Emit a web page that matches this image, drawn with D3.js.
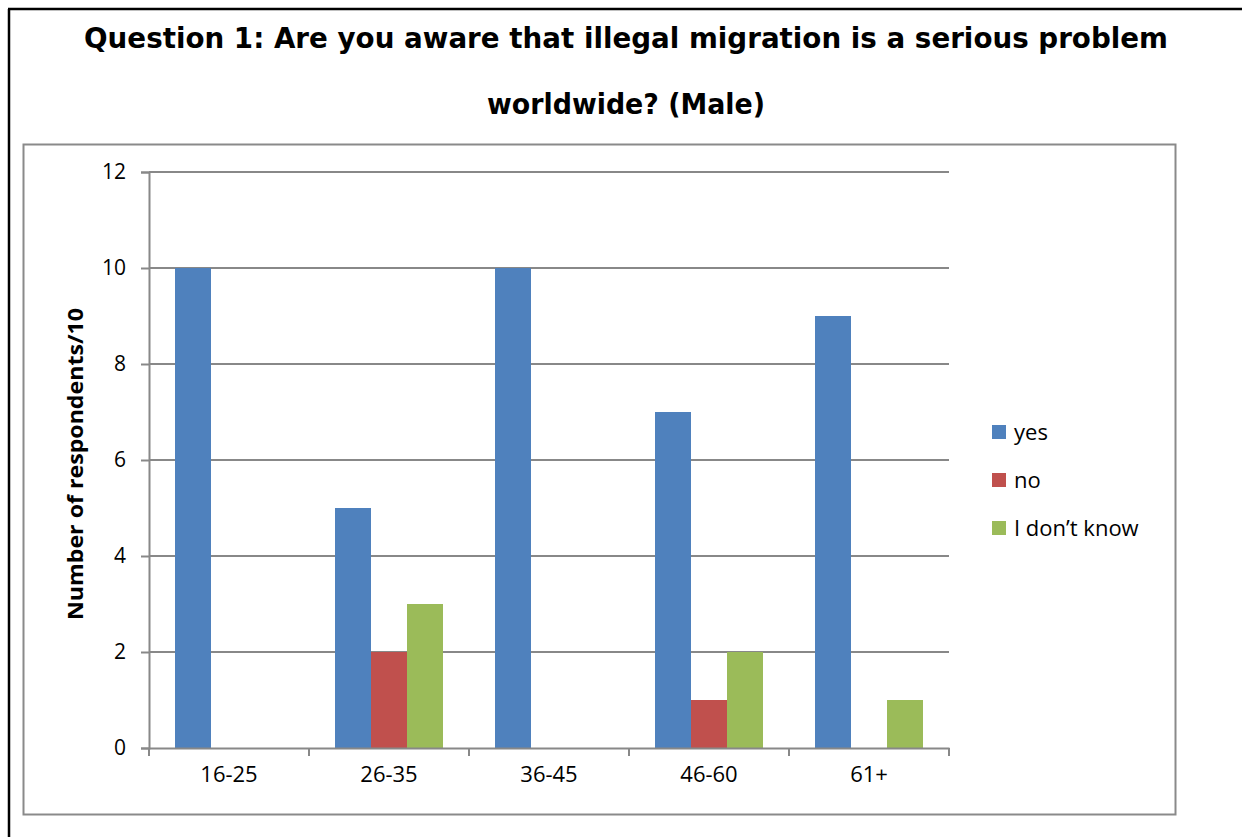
<!DOCTYPE html>
<html><head><meta charset="utf-8">
<script src="https://cdn.jsdelivr.net/npm/d3@7/dist/d3.min.js"></script>
<style>body{margin:0;background:#fff}svg{display:block}</style>
</head><body>
<svg id="c" width="1242" height="837"></svg>
<script>
const categories = ["16-25","26-35","36-45","46-60","61+"];
const seriesNames = ["yes","no","I don\u2019t know"];
const yesValues = [10,5,10,7,9];
const noValues = [0,2,0,1,0];
const dontKnowValues = [0,3,0,2,1];
const yTicks = [0,2,4,6,8,10,12];
const colors = ["#4F81BD","#C0504D","#9BBB59"];
const titleLines = ["Question 1: Are you aware that illegal migration is a serious problem","worldwide? (Male)"];
const yLabel = "Number of respondents/10";

(function(){
const series = [yesValues, noValues, dontKnowValues];
const svg = d3.select("#c");
const font = "'Open Sans', sans-serif";

// outer page border (left + top)
svg.append("line").attr("x1",9).attr("x2",9).attr("y1",9).attr("y2",837).attr("stroke","#000").attr("stroke-width",2.5);
svg.append("line").attr("x1",8).attr("x2",1242).attr("y1",9).attr("y2",9).attr("stroke","#000").attr("stroke-width",2.5);

// title
svg.selectAll("text.title").data(titleLines).join("text")
  .attr("class","title")
  .attr("x",626).attr("y",(d,i)=> i===0 ? 48 : 114)
  .attr("text-anchor","middle")
  .attr("font-family","'DejaVu Sans', sans-serif").attr("font-weight","bold")
  .attr("font-size",29)
  .attr("textLength",(d,i)=> i===0 ? 1084 : 278).attr("lengthAdjust","spacingAndGlyphs")
  .text(d=>d);

// chart area box
svg.append("rect").attr("x",23.5).attr("y",144.5).attr("width",1152).attr("height",670)
  .attr("fill","#fff").attr("stroke","#8a8a8a").attr("stroke-width",2);

const pl = 149, pr = 949, pt = 172, pb = 748;
const x = d3.scaleBand().domain(categories).range([pl,pr]).paddingInner(0).paddingOuter(0);
const y = d3.scaleLinear().domain([0,12]).range([pb,pt]);
const groupInner = 108;
const xs = d3.scaleBand().domain(d3.range(seriesNames.length)).range([0,groupInner]);

// gridlines
svg.append("g").selectAll("line").data(yTicks.filter(t=>t>0)).join("line")
  .attr("x1",pl).attr("x2",pr).attr("y1",d=>y(d)).attr("y2",d=>y(d))
  .attr("stroke","#888").attr("stroke-width",2);

// bars
const g = svg.append("g");
series.forEach((vals,si)=>{
  g.selectAll(null).data(vals.map((v,i)=>({v,c:categories[i]}))).join("rect")
    .attr("x",d=> x(d.c) + (x.bandwidth()-groupInner)/2 + xs(si))
    .attr("width",xs.bandwidth())
    .attr("y",d=>y(d.v)).attr("height",d=>y(0)-y(d.v))
    .attr("fill",colors[si]);
});

// y axis
const yAxis = d3.axisLeft(y).tickValues(yTicks).tickSize(8).tickPadding(10).tickFormat(d3.format("d"));
const yg = svg.append("g").attr("transform",`translate(${pl},0)`).call(yAxis);
yg.select(".domain").attr("stroke","#888").attr("stroke-width",2);
yg.selectAll(".tick line").attr("stroke","#888").attr("stroke-width",2);
yg.selectAll(".tick text").attr("font-family",font).attr("font-size",21).attr("fill","#000").attr("dx",-5);

// x axis
const xAxis = d3.axisBottom(x).tickSize(0).tickPadding(18);
const xg = svg.append("g").attr("transform",`translate(0,${pb})`).call(xAxis);
xg.select(".domain").attr("stroke","#888").attr("stroke-width",2);
xg.selectAll(".tick text").attr("font-family",font).attr("font-size",22).attr("fill","#000");
xg.selectAll("line.sep").data(d3.range(categories.length+1)).join("line").attr("class","sep")
  .attr("x1",i=> pl + i*x.step()).attr("x2",i=> pl + i*x.step())
  .attr("y1",0).attr("y2",8).attr("stroke","#888").attr("stroke-width",2);

// y label
svg.append("text").attr("transform","translate(83,464) rotate(-90)")
  .attr("text-anchor","middle").attr("font-family",font).attr("font-weight","bold")
  .attr("font-size",21).attr("textLength",312).attr("lengthAdjust","spacingAndGlyphs").text(yLabel);

// legend
const lg = svg.append("g");
seriesNames.forEach((n,i)=>{
  const cy = 432 + i*48;
  lg.append("rect").attr("x",992).attr("y",cy-7).attr("width",14).attr("height",14).attr("fill",colors[i]);
  lg.append("text").attr("x",1014).attr("y",cy).attr("dy","0.35em")
    .attr("font-family",font).attr("font-size",22).text(n);
});
})();
</script>
</body></html>
